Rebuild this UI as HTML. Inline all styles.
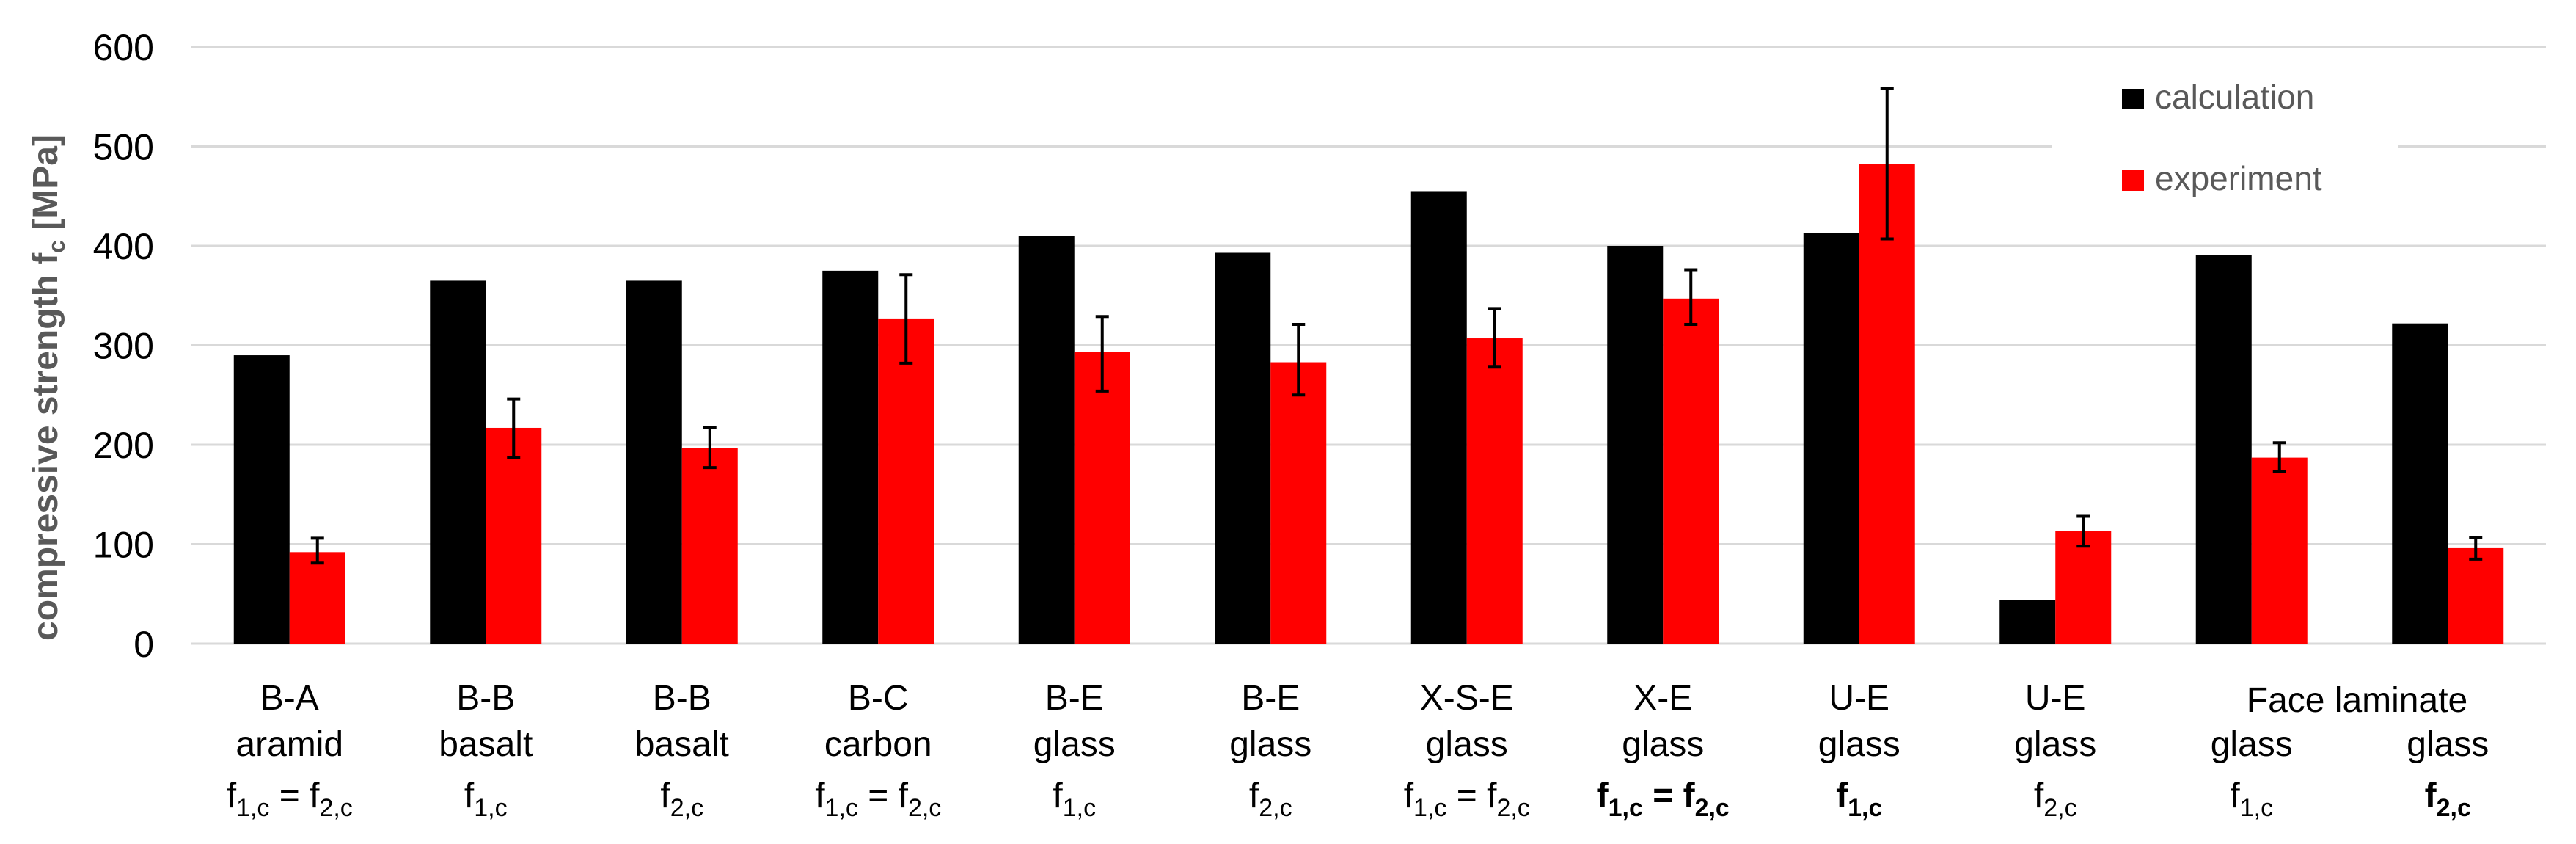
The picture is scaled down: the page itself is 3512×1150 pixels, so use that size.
<!DOCTYPE html>
<html><head><meta charset="utf-8"><style>
html,body{margin:0;padding:0;background:#fff;}
svg{display:block;font-family:"Liberation Sans",sans-serif;}
</style></head><body>
<svg id="chart" width="3512" height="1150" viewBox="0 0 3512 1150" xmlns="http://www.w3.org/2000/svg">
<g id="grid"></g>
<g id="yticks"></g>
<g id="bars"></g>
<g id="errs"></g>
<g id="xlabels"></g>
<text transform="translate(78,528) rotate(-90)" text-anchor="middle" font-size="48" font-weight="bold" fill="#595959">compressive strength  f<tspan font-size="32" dy="10">c</tspan><tspan dy="-10"> [MPa]</tspan></text>
<g>
<rect x="2797" y="110" width="473" height="165" fill="#fff"/>
<rect x="2893" y="121" width="30" height="28" fill="#000"/>
<text x="2938" y="148" font-size="46" fill="#595959">calculation</text>
<rect x="2893" y="232" width="30" height="28" fill="#ff0000"/>
<text x="2938" y="259" font-size="46" fill="#595959">experiment</text>
</g>
</svg>
<script>
const categories=["B-A","B-B","B-B","B-C","B-E","B-E","X-S-E","X-E","U-E","U-E","","",""].slice(0,12);
const materials=["aramid","basalt","basalt","carbon","glass","glass","glass","glass","glass","glass","glass","glass"];
const calculation=[290,365,365,375,410,393,455,400,413,44,391,322];
const experiment=[92,217,197,327,293,283,307,347,482,113,187,96];
const errLow=[81,187,177,282,254,250,278,321,407,98,173,85];
const errHigh=[106,246,217,371,329,321,337,376,558,128,202,107];
const yTicks=[0,100,200,300,400,500,600];
const subs=[["1,c","=","2,c"],["1,c"],["2,c"],["1,c","=","2,c"],["1,c"],["2,c"],["1,c","=","2,c"],["1,c","=","2,c"],["1,c"],["2,c"],["1,c"],["2,c"]];
const boldSub=[false,false,false,false,false,false,false,true,true,false,false,true];

const NS="http://www.w3.org/2000/svg";
const L=261,R=3471,Y0=877,Y600=64;
const n=calculation.length, step=(R-L)/n, bw=76;
const y=v=>Y0-(v/600)*(Y0-Y600);
const cx=i=>L+step*(i+0.5);
function mk(tag,attrs,parent){const e=document.createElementNS(NS,tag);for(const k in attrs)e.setAttribute(k,attrs[k]);parent.appendChild(e);return e;}
const grid=document.getElementById('grid'),yt=document.getElementById('yticks'),bars=document.getElementById('bars'),errs=document.getElementById('errs'),xl=document.getElementById('xlabels');
yTicks.forEach(t=>{
 const g=mk('line',{x1:L,x2:R,y1:y(t),y2:y(t),stroke:'#d9d9d9','stroke-width':3},grid);
 
 
 const tx=mk('text',{x:210,y:y(t)+18,'text-anchor':'end','font-size':50,fill:'#000'},yt);
 tx.textContent=t;
 
 
});
for(let i=0;i<n;i++){
 const c=cx(i);
 const b1=mk('rect',{x:c-bw,y:y(calculation[i]),width:bw,height:Y0-y(calculation[i]),fill:'#000'},bars);
 
 
 const b2=mk('rect',{x:c,y:y(experiment[i]),width:bw,height:Y0-y(experiment[i]),fill:'#ff0000'},bars);
 
 
 const ex=c+bw/2;
 const eg=mk('g',{stroke:'#000','stroke-width':4},errs);
 
 
 mk('line',{x1:ex,x2:ex,y1:y(errLow[i]),y2:y(errHigh[i])},eg);
 mk('line',{x1:ex-9,x2:ex+9,y1:y(errLow[i]),y2:y(errLow[i])},eg);
 mk('line',{x1:ex-9,x2:ex+9,y1:y(errHigh[i]),y2:y(errHigh[i])},eg);
 if(i<10){
  const t1=mk('text',{x:c,y:967,'text-anchor':'middle','font-size':48,fill:'#000'},xl);
  t1.textContent=categories[i];
  
  
 }
 const t2=mk('text',{x:c,y:1030,'text-anchor':'middle','font-size':48,fill:'#000'},xl);
 t2.textContent=materials[i];
 
 
 const t3=mk('text',{x:c,y:1100,'text-anchor':'middle','font-size':48,fill:'#000','font-weight':boldSub[i]?'bold':'normal'},xl);
 
 
 const s=subs[i];
 const add=(txt,sub)=>{const sp=mk('tspan',sub?{'font-size':34,dy:12}:{'font-size':48,dy:0},t3);sp.textContent=txt;return sp;};
 add('f',false);let sp=add(s[0],true);
 if(s.length>1){const a=mk('tspan',{'font-size':48,dy:-12},t3);a.textContent=' = f';add(s[2],true);}
}
const face=mk('text',{x:(cx(10)+cx(11))/2+10,y:970,'text-anchor':'middle','font-size':48,fill:'#000'},xl);
face.textContent='Face laminate';


</script>
</body></html>
